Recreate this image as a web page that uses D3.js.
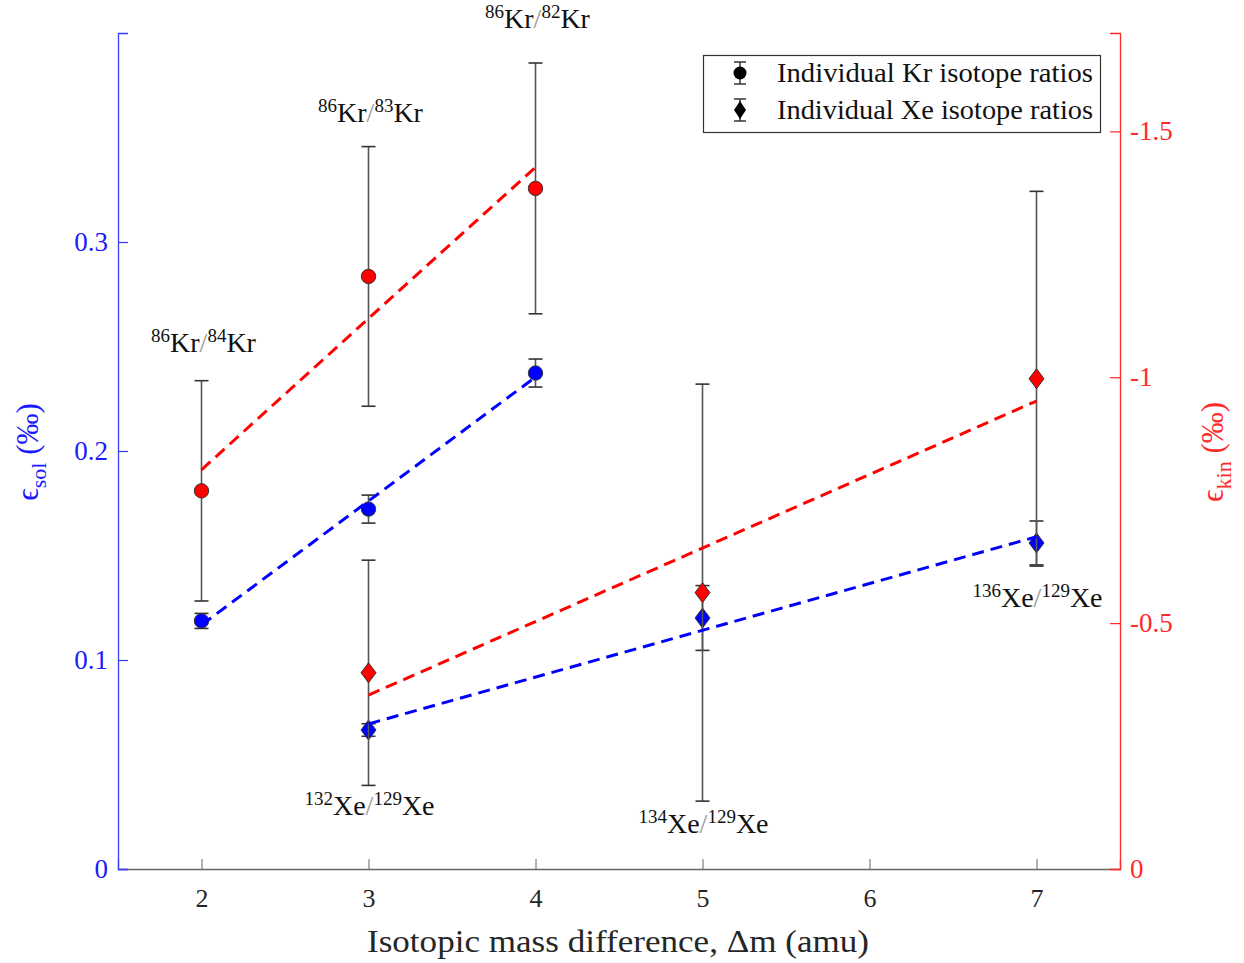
<!DOCTYPE html>
<html>
<head>
<meta charset="utf-8">
<script src="https://cdn.jsdelivr.net/npm/d3@7"></script>
<style>
  html, body { margin: 0; padding: 0; background: #fff; }
  svg { display: block; }
  text { font-family: "Liberation Serif", "DejaVu Serif", serif; }
</style>
</head>
<body>
<svg id="chart" width="1244" height="963"></svg>
<script>
// ---------------- data ----------------
const xTicks = [2, 3, 4, 5, 6, 7];
const leftTicks = [0, 0.1, 0.2, 0.3];
const rightTicks = [0, -0.5, -1, -1.5];

// Kr isotope ratios (circles)
const krDm = [2, 3, 4];
const krSol = [0.1187, 0.1722, 0.2373];
const krSolErr = [0.0036, 0.0067, 0.0067];
const krKin = [-0.769, -1.205, -1.384];
const krKinErr = [0.224, 0.264, 0.255];
const krLabels = ["84", "83", "82"];

// Xe isotope ratios (diamonds)
const xeDm = [3, 5, 7];
const xeSol = [0.0665, 0.1201, 0.1560];
const xeSolErr = [0.0030, 0.0155, 0.0105];
const xeKin = [-0.399, -0.562, -0.997];
const xeKinErr = [0.229, 0.424, 0.381];
const xeLabels = ["132", "134", "136"];

const legendLabels = ["Individual Kr isotope ratios", "Individual Xe isotope ratios"];

// ---------------- layout ----------------
const svg = d3.select("#chart");
const L = 118, R = 1120, T = 33, B = 869;
const x = d3.scaleLinear().domain([1.5, 7.5]).range([L, R]);
const yL = d3.scaleLinear().domain([0, 0.4]).range([B, T]);
const yR = d3.scaleLinear().domain([0, -1.7]).range([B, T]);

const BLUE = "#0000ff", RED = "#ff0000";
const BLUE_AX = "#3a3aff", RED_AX = "#ff2a2a";
const ERR = "#555555";

function linfit(xs, ys) {
  const n = xs.length;
  const mx = d3.mean(xs), my = d3.mean(ys);
  let sxy = 0, sxx = 0;
  for (let i = 0; i < n; i++) { sxy += (xs[i]-mx)*(ys[i]-my); sxx += (xs[i]-mx)**2; }
  const b = sxy / sxx, a = my - b*mx;
  return v => a + b*v;
}

// ---------------- axes ----------------
const gx = svg.append("g").attr("transform", `translate(0,${B})`)
  .call(d3.axisBottom(x).tickValues(xTicks).tickSize(-10).tickPadding(20).tickFormat(d3.format("d")));
gx.select(".domain").attr("stroke", "#666").attr("stroke-width", 1.3);
gx.selectAll(".tick line").attr("stroke", "#666").attr("stroke-width", 1);
gx.selectAll(".tick text").attr("fill", "#262626").style("font-size", "26px")
  .style("font-family", "Liberation Serif");

const gl = svg.append("g").attr("transform", `translate(${L},0)`)
  .call(d3.axisLeft(yL).tickValues(leftTicks).tickSize(-10).tickPadding(10)
    .tickFormat(d => d === 0 ? "0" : d3.format(".1f")(d)));
gl.select(".domain").attr("stroke", BLUE_AX).attr("stroke-width", 1.3);
gl.selectAll(".tick line").attr("stroke", BLUE_AX).attr("stroke-width", 1.2);
gl.selectAll(".tick text").attr("fill", "#1a1aff").style("font-size", "27px")
  .style("font-family", "Liberation Serif");

const gr = svg.append("g").attr("transform", `translate(${R},0)`)
  .call(d3.axisRight(yR).tickValues(rightTicks).tickSize(-10).tickPadding(10)
    .tickFormat(d => d === 0 ? "0" : "-" + d3.format("")(Math.abs(d))));
gr.select(".domain").attr("stroke", RED_AX).attr("stroke-width", 1.3);
gr.selectAll(".tick line").attr("stroke", RED_AX).attr("stroke-width", 1.2);
gr.selectAll(".tick text").attr("fill", RED_AX).style("font-size", "27px")
  .style("font-family", "Liberation Serif");

// axis labels
svg.append("text").attr("x", (L+R)/2 - 1).attr("y", 952).attr("text-anchor", "middle")
  .attr("fill", "#262626").style("font-size", "32px")
  .attr("textLength", 502).attr("lengthAdjust", "spacingAndGlyphs")
  .text("Isotopic mass difference, Δm (amu)");

function yLabel(cx, cy, color, sub) {
  const t = svg.append("text").attr("transform", `translate(${cx},${cy}) rotate(-90)`)
    .attr("text-anchor", "middle").attr("fill", color).style("font-size", "31px");
  t.append("tspan").text("ϵ");
  t.append("tspan").attr("dy", 8).style("font-size", "22px").text(sub);
  t.append("tspan").attr("dy", -8).text(" (‰)");
}
yLabel(38, 452, "#1a1aff", "sol");
yLabel(1223, 452, RED_AX, "kin");

// ---------------- marks ----------------
const circle = d3.symbol().type(d3.symbolCircle).size(Math.PI*7.2*7.2);
function diamondPath(cx, cy, w, h) {
  return `M${cx},${cy-h}L${cx+w},${cy}L${cx},${cy+h}L${cx-w},${cy}Z`;
}

function errbars(g, xs, ys, es, ys_scale) {
  xs.forEach((d, i) => {
    const px = x(d), y1 = ys_scale(ys[i] - es[i]), y2 = ys_scale(ys[i] + es[i]);
    g.append("line").attr("x1", px).attr("x2", px).attr("y1", y1).attr("y2", y2)
      .attr("stroke", ERR).attr("stroke-width", 1.6);
    [y1, y2].forEach(yy => g.append("line").attr("x1", px-7).attr("x2", px+7)
      .attr("y1", yy).attr("y2", yy).attr("stroke", "#333").attr("stroke-width", 1.6));
  });
}

function markers(g, xs, ys, ys_scale, color, kind) {
  xs.forEach((d, i) => {
    const px = x(d), py = ys_scale(ys[i]);
    if (kind === "circle") {
      g.append("path").attr("d", circle()).attr("transform", `translate(${px},${py})`)
        .attr("fill", color).attr("stroke", "#333").attr("stroke-width", 1);
    } else {
      g.append("path").attr("d", diamondPath(px, py, 7.5, 10))
        .attr("fill", color).attr("stroke", "#333").attr("stroke-width", 1);
    }
  });
}

const gm = svg.append("g");
errbars(gm, krDm, krSol, krSolErr, yL);
markers(gm, krDm, krSol, yL, BLUE, "circle");
errbars(gm, xeDm, xeSol, xeSolErr, yL);
markers(gm, xeDm, xeSol, yL, BLUE, "diamond");
errbars(gm, krDm, krKin, krKinErr, yR);
markers(gm, krDm, krKin, yR, RED, "circle");
errbars(gm, xeDm, xeKin, xeKinErr, yR);
markers(gm, xeDm, xeKin, yR, RED, "diamond");

function fitLine(xs, ys, yscale, color) {
  const f = linfit(xs, ys);
  const ends = [d3.min(xs), d3.max(xs)];
  svg.append("line")
    .attr("x1", x(ends[0])).attr("y1", yscale(f(ends[0])))
    .attr("x2", x(ends[1])).attr("y2", yscale(f(ends[1])))
    .attr("stroke", color).attr("stroke-width", 3).attr("stroke-dasharray", "12,7");
}
fitLine(krDm, krSol, yL, BLUE);
fitLine(krDm, krKin, yR, RED);
fitLine(xeDm, xeSol, yL, BLUE);
fitLine(xeDm, xeKin, yR, RED);

// ---------------- annotations ----------------
function ratioLabel(px, py, supA, elA, supB, elB) {
  const t = svg.append("text").attr("x", px).attr("y", py).attr("text-anchor", "middle")
    .attr("fill", "#111").style("font-size", "28px");
  t.append("tspan").attr("dy", -10).style("font-size", "19px").text(supA);
  t.append("tspan").attr("dy", 10).text(elA);
  t.append("tspan").attr("fill", "#999").text("/");
  t.append("tspan").attr("dy", -10).style("font-size", "19px").text(supB);
  t.append("tspan").attr("dy", 10).text(elB);
}
const krLabelY = [352, 122, 28];
krDm.forEach((d, i) => ratioLabel(x(d) + 2, krLabelY[i], "86", "Kr", krLabels[i], "Kr"));
const xeLabelY = [815, 833, 607];
xeDm.forEach((d, i) => ratioLabel(x(d) + 1, xeLabelY[i], xeLabels[i], "Xe", "129", "Xe"));

// ---------------- legend ----------------
const lg = svg.append("g");
lg.append("rect").attr("x", 703.5).attr("y", 55.5).attr("width", 397).attr("height", 77)
  .attr("fill", "#fff").attr("stroke", "#333").attr("stroke-width", 1.2);
legendLabels.forEach((lab, i) => {
  const cy = 73 + i*37, cx = 740;
  lg.append("line").attr("x1", cx).attr("x2", cx).attr("y1", cy-11).attr("y2", cy+11)
    .attr("stroke", "#333").attr("stroke-width", 1.5);
  [cy-11, cy+11].forEach(yy => lg.append("line").attr("x1", cx-6).attr("x2", cx+6)
    .attr("y1", yy).attr("y2", yy).attr("stroke", "#333").attr("stroke-width", 1.5));
  if (i === 0) {
    lg.append("circle").attr("cx", cx).attr("cy", cy).attr("r", 6.5).attr("fill", "#000");
  } else {
    lg.append("path").attr("d", diamondPath(cx, cy, 6, 9)).attr("fill", "#000");
  }
  lg.append("text").attr("x", 777).attr("y", cy + 9).attr("fill", "#111")
    .style("font-size", "27px").attr("textLength", 316).attr("lengthAdjust", "spacingAndGlyphs")
    .text(lab);
});
</script>
</body>
</html>
